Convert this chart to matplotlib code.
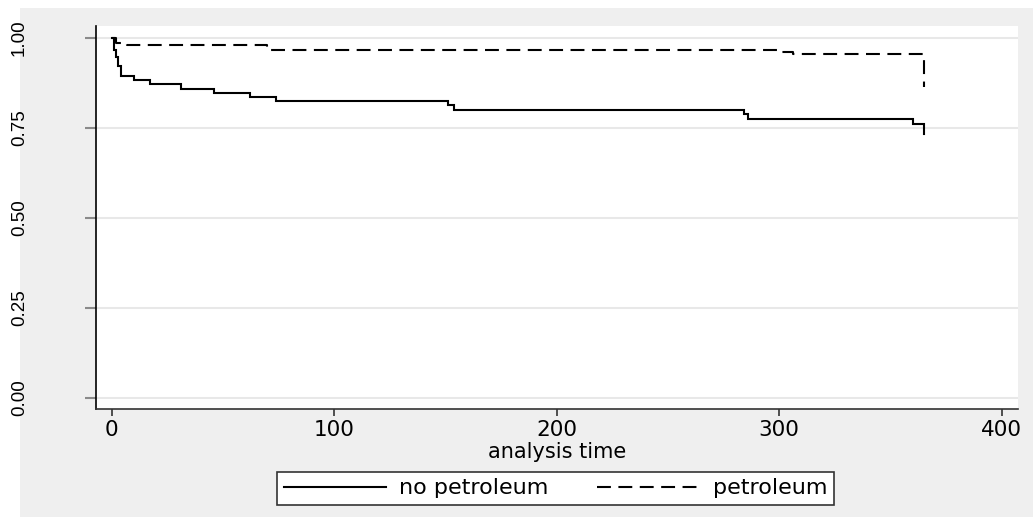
import matplotlib
matplotlib.use("Agg")
import matplotlib.pyplot as plt
from matplotlib.patches import Rectangle

# ---- data ----
t_nopet = [0, 1, 2, 3, 4, 10, 17, 31, 46, 62, 74, 151, 154, 284, 286, 360, 365]
s_nopet = [1.0, 0.966, 0.947, 0.92, 0.894, 0.882, 0.871, 0.858, 0.847, 0.834,
           0.823, 0.813, 0.799, 0.787, 0.774, 0.760, 0.7325]
t_pet = [0, 2, 7, 70, 301, 306, 365]
s_pet = [1.0, 0.986, 0.980, 0.966, 0.961, 0.954, 0.864]

xticks = [0, 100, 200, 300, 400]
yticks = [0.0, 0.25, 0.5, 0.75, 1.0]
ytick_labels = ["0.00", "0.25", "0.50", "0.75", "1.00"]
series_labels = ["no petroleum", "petroleum"]
xlabel = "analysis time"

W, H = 1034, 518
plt.rcParams["lines.scale_dashes"] = False
fig = plt.figure(figsize=(W / 100, H / 100), dpi=100, facecolor="white")
fig.patches.append(Rectangle((20 / W, 1 / H), (1033 - 20) / W, (518 - 8 - 1) / H,
                             transform=fig.transFigure, facecolor="#efefef",
                             edgecolor="none", zorder=-10))

ax = fig.add_axes([96 / W, (H - 409) / H, (1018 - 96) / W, (409 - 26) / H])
ax.set_facecolor("white")

l1, = ax.plot(t_nopet, s_nopet, drawstyle="steps-post", color="black", lw=1.5,
              solid_joinstyle="miter", label=series_labels[0])
l2, = ax.plot(t_pet, s_pet, drawstyle="steps-post", color="black", lw=1.5,
              linestyle=(0, (10, 5.4)), label=series_labels[1])

ax.set_xlim(-7.06, 407.3)
ax.set_ylim(-0.0314, 1.0325)

for sp in ["top", "right"]:
    ax.spines[sp].set_visible(False)
ax.spines["left"].set_color("black")
ax.spines["left"].set_linewidth(1.2)
ax.spines["bottom"].set_color("#333333")
ax.spines["bottom"].set_linewidth(1.2)

ax.set_yticks(yticks, ytick_labels)
ax.set_xticks(xticks, [str(v) for v in xticks])
ax.tick_params(axis="y", length=8, width=1.5, color="#8a8a8a", pad=41,
               labelsize=13.5, labelrotation=90, labelfontfamily="Liberation Sans")
ax.tick_params(axis="x", length=5, width=1.2, color="#333333", pad=3,
               labelsize=15.5, labelfontfamily="DejaVu Sans")
for lab in ax.get_yticklabels():
    lab.set_va("center")
ax.grid(axis="y", color="#e8e8e8", lw=1.5)
ax.set_axisbelow(True)

fig.text(557 / W, (H - 458) / H, xlabel, ha="center", va="baseline",
         fontsize=15, fontfamily="DejaVu Sans")

leg = ax.legend(handles=[l1, l2], loc="center",
                bbox_to_anchor=(555.5 / W, 1 - 488.5 / H), bbox_transform=fig.transFigure,
                ncol=2, handlelength=4.6, handletextpad=0.6,
                columnspacing=2.2, borderpad=0.3, fancybox=False, framealpha=1,
                edgecolor="#333333", prop={"family": "DejaVu Sans", "size": 16})
leg.get_frame().set_linewidth(1.2)

fig.savefig("out.png", dpi=100, facecolor="white")
